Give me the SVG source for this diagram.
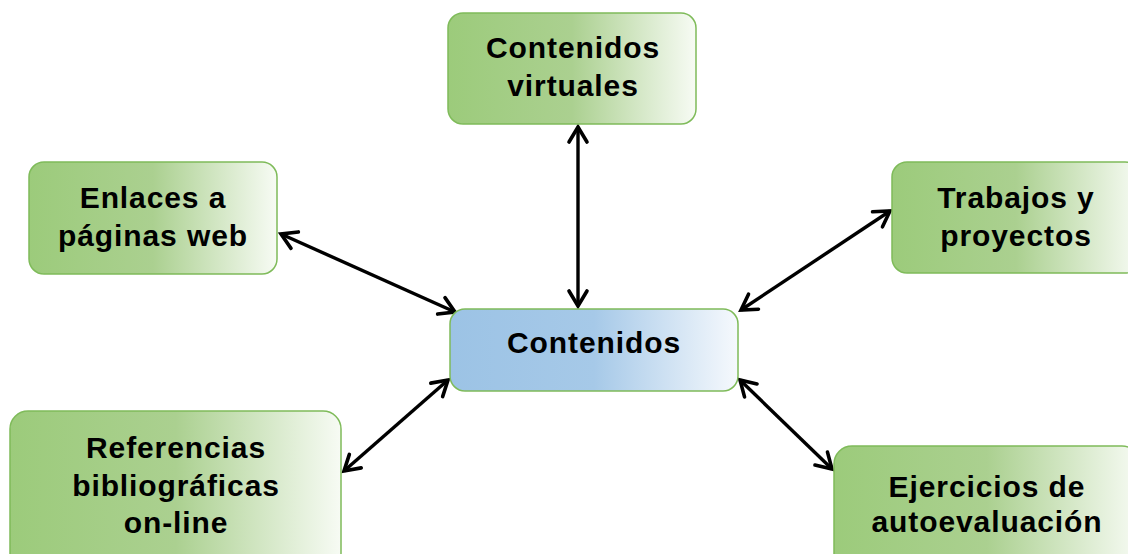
<svg xmlns="http://www.w3.org/2000/svg" width="1128" height="554" viewBox="0 0 1128 554">
<defs>
<linearGradient id="gGreen" x1="0" y1="0" x2="1" y2="0">
<stop offset="0" stop-color="#9ccb7b"/>
<stop offset="0.5" stop-color="#abd090"/>
<stop offset="1" stop-color="#f7fbf4"/>
</linearGradient>
<linearGradient id="gBlue" x1="0" y1="0" x2="1" y2="0">
<stop offset="0" stop-color="#9cc3e5"/>
<stop offset="0.5" stop-color="#a6c9e8"/>
<stop offset="1" stop-color="#f6f9fd"/>
</linearGradient>
<marker id="arr" viewBox="-22 -13 26 26" markerWidth="26" markerHeight="26" refX="0" refY="0" orient="auto-start-reverse" markerUnits="userSpaceOnUse">
<path d="M -15 -9 L 0 0 L -15 9" fill="none" stroke="#000" stroke-width="3.6" stroke-linejoin="miter" stroke-linecap="round"/>
</marker>
</defs>
<style>
.box{stroke:#7fbb5a;stroke-width:1.5}
.g{fill:url(#gGreen)}
.b{fill:url(#gBlue)}
.t{font-family:"Liberation Sans",Arial,sans-serif;font-weight:bold;font-size:30px;fill:#000;text-anchor:middle;letter-spacing:0.9px}
.c{fill:none;stroke:#000;stroke-width:3.4;marker-start:url(#arr);marker-end:url(#arr)}
</style>
<rect width="1128" height="554" fill="#fff"/>
<g id="connectors">
<line class="c" x1="578" y1="127" x2="578" y2="306"/>
<line class="c" x1="281" y1="234" x2="455" y2="312"/>
<line class="c" x1="741" y1="310" x2="890" y2="211"/>
<line class="c" x1="448" y1="380" x2="344" y2="471"/>
<line class="c" x1="740" y1="380" x2="832" y2="469"/>
</g>
<g id="n-virtuales">
<rect class="box g" x="448" y="13" width="248" height="111" rx="15"/>
<text class="t" x="573" y="58">Contenidos</text>
<text class="t" x="573" y="96">virtuales</text>
</g>
<g id="n-enlaces">
<rect class="box g" x="29" y="162" width="248" height="112" rx="15"/>
<text class="t" x="153" y="208">Enlaces a</text>
<text class="t" x="153" y="246">páginas web</text>
</g>
<g id="n-trabajos">
<rect class="box g" x="892" y="162" width="248" height="111" rx="15"/>
<text class="t" x="1016" y="208">Trabajos y</text>
<text class="t" x="1016" y="246">proyectos</text>
</g>
<g id="n-contenidos">
<rect class="box b" x="450" y="309" width="288" height="82" rx="15"/>
<text class="t" x="594" y="353">Contenidos</text>
</g>
<g id="n-referencias">
<rect class="box g" x="10" y="411" width="331" height="160" rx="18"/>
<text class="t" x="176" y="458">Referencias</text>
<text class="t" x="176" y="496">bibliográficas</text>
<text class="t" x="176" y="533">on-line</text>
</g>
<g id="n-ejercicios">
<rect class="box g" x="834" y="446" width="306" height="130" rx="18"/>
<text class="t" x="987" y="497">Ejercicios de</text>
<text class="t" x="987" y="532">autoevaluación</text>
</g>
</svg>
